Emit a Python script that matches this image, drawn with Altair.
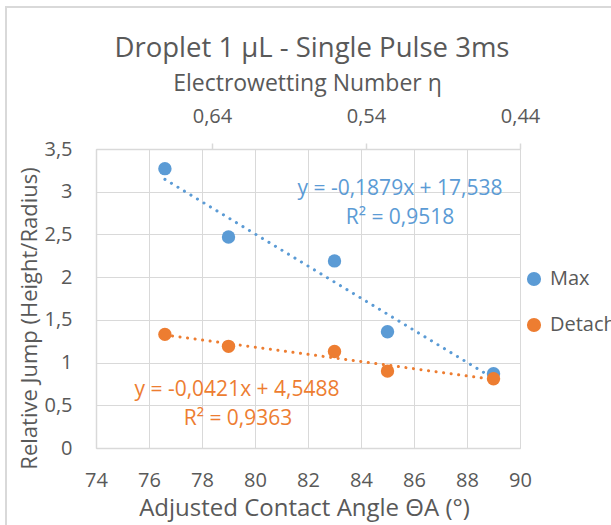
import altair as alt
import pandas as pd

# Measured jumps against the adjusted contact angle (degrees)
angle = [76.6, 79, 83, 85, 89]
max_jump = [3.27, 2.47, 2.19, 1.36, 0.87]
detach_jump = [1.33, 1.19, 1.13, 0.90, 0.81]

series_names = ["Max", "Detach"]
series_colors = ["#5B9BD5", "#ED7D31"]

# Linear trendline coefficients and fit quality for each series
slopes = [-0.1879, -0.0421]
intercepts = [17.538, 4.5488]
r_squared = [0.9518, 0.9363]

# Secondary axis: electrowetting number
eta_ticks = [0.64, 0.54, 0.44]
eta_domain = [0.44, 0.7153]

chart_title = "Droplet 1 µL - Single Pulse 3ms"

FONT = "Open Sans"
GREY = "#595959"
LINE = "#D9D9D9"

points = pd.DataFrame({
    "series": ["Max"] * len(angle) + ["Detach"] * len(angle),
    "angle": angle + angle,
    "jump": max_jump + detach_jump,
})

trend_rows = []
for name, a, b in zip(series_names, slopes, intercepts):
    for x in (min(angle), max(angle)):
        trend_rows.append({"series": name, "angle": x, "jump": a * x + b})
trend = pd.DataFrame(trend_rows)


def comma(v):
    return str(v).replace(".", ",")


def eq_text(a, b):
    sign = "+" if b >= 0 else "-"
    return f"y = {comma(a)}x {sign} {comma(abs(b))}"


color_scale = alt.Scale(domain=series_names, range=series_colors)

x_main = alt.X(
    "angle:Q",
    scale=alt.Scale(domain=[74, 90], nice=False, zero=False),
    axis=alt.Axis(
        values=list(range(74, 91, 2)),
        title="Adjusted Contact Angle ΘA (°)",
        grid=True, gridColor=LINE, ticks=False,
        domainColor=LINE, domainWidth=1.5,
        labelFlush=False, labelOverlap=False,
        labelFontSize=20, labelColor=GREY, labelFont=FONT, labelPadding=22,
        titleFontSize=24, titleColor=GREY, titleFont=FONT,
        titleFontWeight="normal", titleBaseline="middle",
        titleX=208, titleY=60,
    ),
)
y_main = alt.Y(
    "jump:Q",
    scale=alt.Scale(domain=[0, 3.5], nice=False),
    axis=alt.Axis(
        values=[0, 0.5, 1, 1.5, 2, 2.5, 3, 3.5],
        labelExpr="replace(toString(datum.value), '.', ',')",
        title="Relative Jump (Height/Radius)",
        grid=True, gridColor=LINE, ticks=False,
        domainColor=LINE, domainWidth=1.5,
        labelFlush=False, labelOverlap=False,
        labelFontSize=20, labelColor=GREY, labelFont=FONT, labelPadding=24,
        titleFontSize=22, titleColor=GREY, titleFont=FONT,
        titleFontWeight="normal", titleBaseline="middle",
        titleX=-67, titleY=169,
    ),
)

trend_layer = alt.Chart(trend).mark_line(
    strokeWidth=3, strokeDash=[0.1, 7.5], strokeCap="round"
).encode(
    x=x_main, y=y_main, detail="series:N",
    color=alt.Color("series:N", scale=color_scale, legend=None),
)

point_layer = alt.Chart(points).mark_circle(size=180, opacity=1).encode(
    x=x_main, y=y_main,
    color=alt.Color(
        "series:N", scale=color_scale,
        legend=alt.Legend(
            title=None, orient="none", legendX=428, legendY=120,
            symbolType="circle", symbolSize=200, symbolStrokeWidth=0,
            labelFontSize=20, labelColor=GREY, labelFont=FONT,
            labelOffset=6, rowPadding=26, padding=0,
        ),
    ),
)


def label(text, color, px, py, size=21, baseline="middle"):
    return alt.Chart(pd.DataFrame({"k": [0]})).mark_text(
        font=FONT, fontSize=size, color=color, align="center", baseline=baseline
    ).encode(x=alt.value(px), y=alt.value(py), text=alt.value(text))


labels = []
label_pos = [((304, 40), (304, 69)), ((141, 241), (142, 270))]
for a, b, r2, col, (p1, p2) in zip(slopes, intercepts, r_squared, series_colors, label_pos):
    labels.append(label(eq_text(a, b), col, *p1))
    labels.append(label(f"R² = {comma(r2)}", col, *p2))

title_mark = label(chart_title, GREY, 216, -92, size=27.5, baseline="alphabetic")

eta_layer = alt.Chart(pd.DataFrame({"eta": eta_ticks})).mark_point(opacity=0).encode(
    x=alt.X(
        "eta:Q",
        scale=alt.Scale(domain=eta_domain, reverse=True, nice=False, zero=False),
        axis=alt.Axis(
            orient="top", values=eta_ticks,
            labelExpr="replace(format(datum.value, '.2f'), '.', ',')",
            title="Electrowetting Number η",
            grid=False, ticks=True, tickSize=6, tickColor=LINE, tickWidth=1.5,
            domainColor=LINE, domainWidth=1.5,
            labelFlush=False, labelOverlap=False,
            labelFontSize=20, labelColor=GREY, labelFont=FONT, labelPadding=17,
            titleFontSize=23, titleColor=GREY, titleFont=FONT,
            titleFontWeight="normal", titleBaseline="middle",
            titleX=211, titleY=-66,
        ),
    ),
    y=alt.value(0),
)

frame = alt.Chart(pd.DataFrame({"k": [0]})).mark_rect(
    fill=None, stroke=LINE, strokeWidth=2
).encode(
    x=alt.value(-90), y=alt.value(-142), x2=alt.value(530), y2=alt.value(400)
)

main = alt.layer(frame, trend_layer, point_layer, *labels, title_mark).resolve_legend(
    color="independent"
)

chart = alt.layer(main, eta_layer).resolve_scale(x="independent").properties(
    width=424, height=299,
    padding={"left": 96, "top": 149, "right": 91, "bottom": 77},
    autosize=alt.AutoSizeParams(type="none"),
).configure_view(stroke=None).configure(background="white")

chart.save("out.html", embed_options={"renderer": "svg", "actions": False})
